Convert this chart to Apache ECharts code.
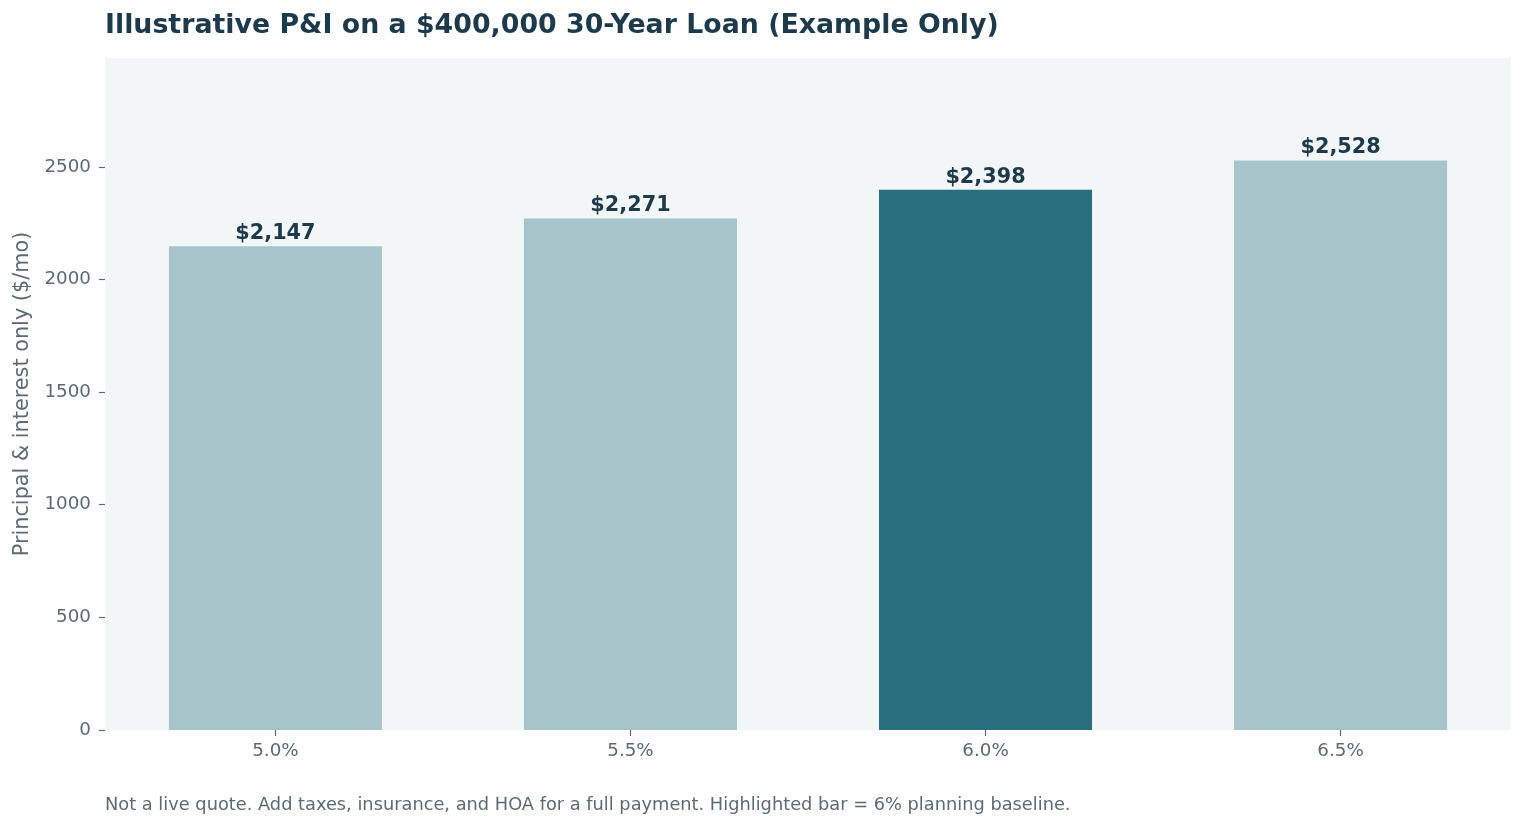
<!DOCTYPE html>
<html>
<head>
<meta charset="utf-8">
<script src="https://cdn.jsdelivr.net/npm/echarts@6/dist/echarts.min.js"></script>
<style>
  html, body { margin: 0; padding: 0; background: #fff; }
  #chart { width: 1526px; height: 829px; }
</style>
</head>
<body>
<div id="chart"></div>
<script>
const rates = ['5.0%', '5.5%', '6.0%', '6.5%'];
const payments = [2147, 2271, 2398, 2528];
const highlightIndex = 2;
const yTicks = [0, 500, 1000, 1500, 2000, 2500];

const chart = echarts.init(document.getElementById('chart'));

const gridLeft = 105, gridRight = 15;
const plotWidth = 1526 - gridLeft - gridRight;
const xMin = -0.48, xMax = rates.length - 1 + 0.48;
const barWidth = 0.6 * plotWidth / (xMax - xMin);

const font = "'DejaVu Sans', 'Liberation Sans', sans-serif";
const textGray = '#5b6b75';

const option = {
    backgroundColor: '#ffffff',
    animation: false,
    textStyle: { fontFamily: font },
    title: [{
        text: 'Illustrative P&I on a $400,000 30-Year Loan (Example Only)',
        left: 105,
        top: 13,
        padding: 0,
        textStyle: { fontFamily: font, fontSize: 26.8, fontWeight: 'bold', color: '#1c3a4c' }
    }, {
        text: 'Not a live quote. Add taxes, insurance, and HOA for a full payment. Highlighted bar = 6% planning baseline.',
        left: 105,
        top: 796,
        padding: 0,
        textStyle: { fontFamily: font, fontSize: 17.8, fontWeight: 'normal', color: textGray }
    }],
    grid: {
        left: gridLeft,
        right: gridRight,
        top: 58,
        bottom: 829 - 730,
        show: true,
        backgroundColor: '#f2f6f7',
        borderWidth: 0
    },
    xAxis: {
        type: 'value',
        min: xMin,
        max: xMax,
        axisLine: { show: false, onZero: false },
        splitLine: { show: false },
        axisTick: {
            show: true,
            customValues: rates.map((_, i) => i),
            length: 6,
            lineStyle: { color: textGray, width: 1.2 }
        },
        axisLabel: {
            customValues: rates.map((_, i) => i),
            formatter: v => rates[Math.round(v)],
            color: textGray,
            fontFamily: font,
            fontSize: 18.3,
            margin: 12
        }
    },
    yAxis: {
        type: 'value',
        min: 0,
        max: 2983,
        name: 'Principal & interest only ($/mo)',
        nameLocation: 'middle',
        nameGap: 71,
        nameTextStyle: { fontSize: 20.8, color: textGray, fontFamily: font },
        axisLine: { show: false, onZero: false },
        splitLine: { show: false },
        axisTick: {
            show: true,
            customValues: yTicks,
            length: 6,
            lineStyle: { color: textGray, width: 1.2 }
        },
        axisLabel: {
            customValues: yTicks,
            formatter: v => String(v),
            color: textGray,
            fontFamily: font,
            fontSize: 18.3,
            margin: 14
        }
    },
    series: [{
        type: 'bar',
        barWidth: barWidth,
        data: payments.map((v, i) => ({
            value: [i, v],
            itemStyle: { color: i === highlightIndex ? '#2a6f7e' : '#a8c4cb' }
        })),
        label: {
            show: true,
            position: 'top',
            distance: 2,
            formatter: p => '$' + p.value[1].toLocaleString('en-US'),
            fontFamily: font,
            fontSize: 20.8,
            fontWeight: 'bold',
            color: '#1c3a4c'
        }
    }]
};

chart.setOption(option);
</script>
</body>
</html>
